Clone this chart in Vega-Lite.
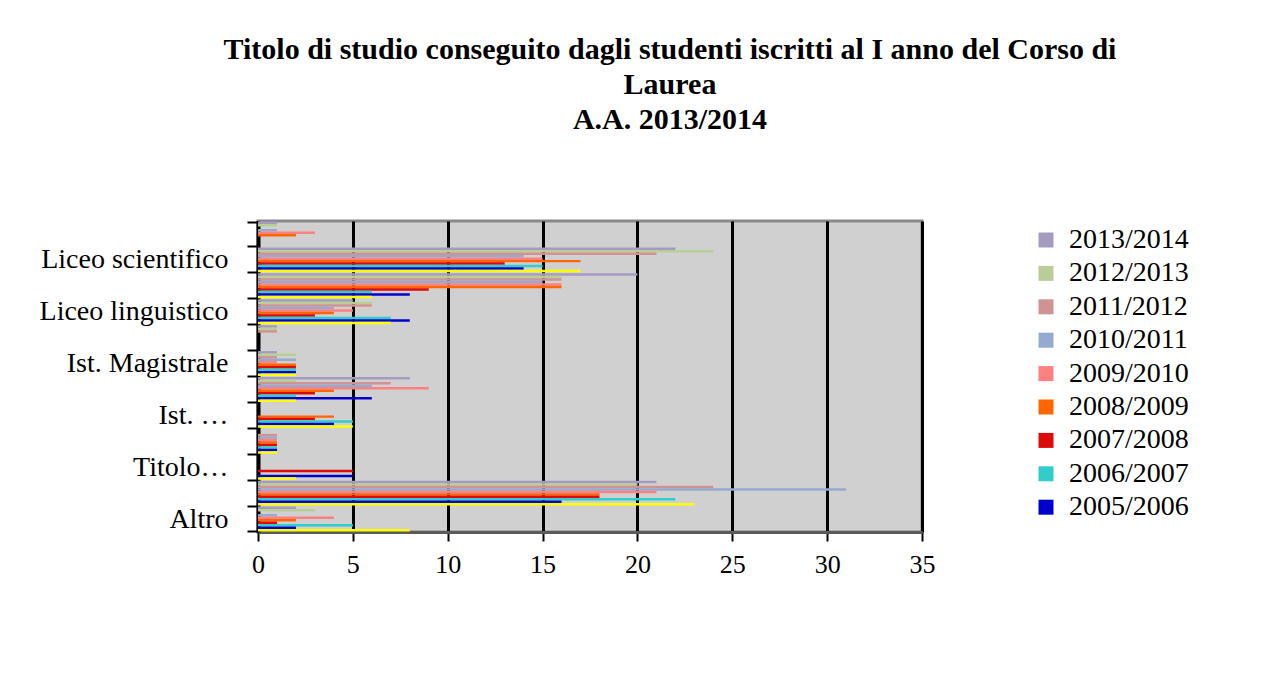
{
  "$schema": "https://vega.github.io/schema/vega-lite/v6.json",
  "width": 664,
  "height": 311,
  "autosize": {"type": "none"},
  "padding": {"left": 258, "top": 221, "right": 361, "bottom": 141},
  "background": "white",
  "title": {
    "text": ["Titolo di studio conseguito dagli studenti iscritti al I anno del Corso di", "Laurea", "A.A. 2013/2014"],
    "font": "Liberation Serif",
    "fontSize": 30,
    "fontWeight": "bold",
    "lineHeight": 35,
    "color": "black",
    "anchor": "middle",
    "frame": "group",
    "dx": 80,
    "offset": 72
  },
  "data": {
    "values": [
      {"titolo": "Liceo classico", "anno": "2013/2014", "n": 1},
      {"titolo": "Liceo classico", "anno": "2012/2013", "n": 1},
      {"titolo": "Liceo classico", "anno": "2011/2012", "n": 0},
      {"titolo": "Liceo classico", "anno": "2010/2011", "n": 1},
      {"titolo": "Liceo classico", "anno": "2009/2010", "n": 3},
      {"titolo": "Liceo classico", "anno": "2008/2009", "n": 2},
      {"titolo": "Liceo classico", "anno": "2007/2008", "n": 0},
      {"titolo": "Liceo classico", "anno": "2006/2007", "n": 0},
      {"titolo": "Liceo classico", "anno": "2005/2006", "n": 0},
      {"titolo": "Liceo classico", "anno": "2004/2005", "n": 0},

      {"titolo": "Liceo scientifico", "anno": "2013/2014", "n": 22},
      {"titolo": "Liceo scientifico", "anno": "2012/2013", "n": 24},
      {"titolo": "Liceo scientifico", "anno": "2011/2012", "n": 21},
      {"titolo": "Liceo scientifico", "anno": "2010/2011", "n": 14},
      {"titolo": "Liceo scientifico", "anno": "2009/2010", "n": 15},
      {"titolo": "Liceo scientifico", "anno": "2008/2009", "n": 17},
      {"titolo": "Liceo scientifico", "anno": "2007/2008", "n": 13},
      {"titolo": "Liceo scientifico", "anno": "2006/2007", "n": 15},
      {"titolo": "Liceo scientifico", "anno": "2005/2006", "n": 14},
      {"titolo": "Liceo scientifico", "anno": "2004/2005", "n": 17},

      {"titolo": "Liceo socio-psico-pedagogico", "anno": "2013/2014", "n": 20},
      {"titolo": "Liceo socio-psico-pedagogico", "anno": "2012/2013", "n": 16},
      {"titolo": "Liceo socio-psico-pedagogico", "anno": "2011/2012", "n": 16},
      {"titolo": "Liceo socio-psico-pedagogico", "anno": "2010/2011", "n": 15},
      {"titolo": "Liceo socio-psico-pedagogico", "anno": "2009/2010", "n": 16},
      {"titolo": "Liceo socio-psico-pedagogico", "anno": "2008/2009", "n": 16},
      {"titolo": "Liceo socio-psico-pedagogico", "anno": "2007/2008", "n": 9},
      {"titolo": "Liceo socio-psico-pedagogico", "anno": "2006/2007", "n": 6},
      {"titolo": "Liceo socio-psico-pedagogico", "anno": "2005/2006", "n": 8},
      {"titolo": "Liceo socio-psico-pedagogico", "anno": "2004/2005", "n": 6},

      {"titolo": "Liceo linguistico", "anno": "2013/2014", "n": 5},
      {"titolo": "Liceo linguistico", "anno": "2012/2013", "n": 6},
      {"titolo": "Liceo linguistico", "anno": "2011/2012", "n": 6},
      {"titolo": "Liceo linguistico", "anno": "2010/2011", "n": 4},
      {"titolo": "Liceo linguistico", "anno": "2009/2010", "n": 5},
      {"titolo": "Liceo linguistico", "anno": "2008/2009", "n": 4},
      {"titolo": "Liceo linguistico", "anno": "2007/2008", "n": 3},
      {"titolo": "Liceo linguistico", "anno": "2006/2007", "n": 7},
      {"titolo": "Liceo linguistico", "anno": "2005/2006", "n": 8},
      {"titolo": "Liceo linguistico", "anno": "2004/2005", "n": 7},

      {"titolo": "Liceo artistico", "anno": "2013/2014", "n": 1},
      {"titolo": "Liceo artistico", "anno": "2012/2013", "n": 1},
      {"titolo": "Liceo artistico", "anno": "2011/2012", "n": 1},
      {"titolo": "Liceo artistico", "anno": "2010/2011", "n": 0},
      {"titolo": "Liceo artistico", "anno": "2009/2010", "n": 0},
      {"titolo": "Liceo artistico", "anno": "2008/2009", "n": 0},
      {"titolo": "Liceo artistico", "anno": "2007/2008", "n": 0},
      {"titolo": "Liceo artistico", "anno": "2006/2007", "n": 0},
      {"titolo": "Liceo artistico", "anno": "2005/2006", "n": 0},
      {"titolo": "Liceo artistico", "anno": "2004/2005", "n": 0},

      {"titolo": "Ist. Magistrale", "anno": "2013/2014", "n": 1},
      {"titolo": "Ist. Magistrale", "anno": "2012/2013", "n": 2},
      {"titolo": "Ist. Magistrale", "anno": "2011/2012", "n": 1},
      {"titolo": "Ist. Magistrale", "anno": "2010/2011", "n": 2},
      {"titolo": "Ist. Magistrale", "anno": "2009/2010", "n": 1},
      {"titolo": "Ist. Magistrale", "anno": "2008/2009", "n": 2},
      {"titolo": "Ist. Magistrale", "anno": "2007/2008", "n": 2},
      {"titolo": "Ist. Magistrale", "anno": "2006/2007", "n": 2},
      {"titolo": "Ist. Magistrale", "anno": "2005/2006", "n": 2},
      {"titolo": "Ist. Magistrale", "anno": "2004/2005", "n": 2},

      {"titolo": "Ist. Tecnico", "anno": "2013/2014", "n": 8},
      {"titolo": "Ist. Tecnico", "anno": "2012/2013", "n": 2},
      {"titolo": "Ist. Tecnico", "anno": "2011/2012", "n": 7},
      {"titolo": "Ist. Tecnico", "anno": "2010/2011", "n": 6},
      {"titolo": "Ist. Tecnico", "anno": "2009/2010", "n": 9},
      {"titolo": "Ist. Tecnico", "anno": "2008/2009", "n": 4},
      {"titolo": "Ist. Tecnico", "anno": "2007/2008", "n": 3},
      {"titolo": "Ist. Tecnico", "anno": "2006/2007", "n": 2},
      {"titolo": "Ist. Tecnico", "anno": "2005/2006", "n": 6},
      {"titolo": "Ist. Tecnico", "anno": "2004/2005", "n": 2},

      {"titolo": "Ist. Professionale", "anno": "2013/2014", "n": 0},
      {"titolo": "Ist. Professionale", "anno": "2012/2013", "n": 0},
      {"titolo": "Ist. Professionale", "anno": "2011/2012", "n": 0},
      {"titolo": "Ist. Professionale", "anno": "2010/2011", "n": 0},
      {"titolo": "Ist. Professionale", "anno": "2009/2010", "n": 0},
      {"titolo": "Ist. Professionale", "anno": "2008/2009", "n": 4},
      {"titolo": "Ist. Professionale", "anno": "2007/2008", "n": 3},
      {"titolo": "Ist. Professionale", "anno": "2006/2007", "n": 5},
      {"titolo": "Ist. Professionale", "anno": "2005/2006", "n": 4},
      {"titolo": "Ist. Professionale", "anno": "2004/2005", "n": 5},

      {"titolo": "Ist. d'Arte", "anno": "2013/2014", "n": 0},
      {"titolo": "Ist. d'Arte", "anno": "2012/2013", "n": 0},
      {"titolo": "Ist. d'Arte", "anno": "2011/2012", "n": 1},
      {"titolo": "Ist. d'Arte", "anno": "2010/2011", "n": 1},
      {"titolo": "Ist. d'Arte", "anno": "2009/2010", "n": 1},
      {"titolo": "Ist. d'Arte", "anno": "2008/2009", "n": 1},
      {"titolo": "Ist. d'Arte", "anno": "2007/2008", "n": 1},
      {"titolo": "Ist. d'Arte", "anno": "2006/2007", "n": 1},
      {"titolo": "Ist. d'Arte", "anno": "2005/2006", "n": 1},
      {"titolo": "Ist. d'Arte", "anno": "2004/2005", "n": 1},

      {"titolo": "Titolo estero", "anno": "2013/2014", "n": 0},
      {"titolo": "Titolo estero", "anno": "2012/2013", "n": 0},
      {"titolo": "Titolo estero", "anno": "2011/2012", "n": 0},
      {"titolo": "Titolo estero", "anno": "2010/2011", "n": 0},
      {"titolo": "Titolo estero", "anno": "2009/2010", "n": 0},
      {"titolo": "Titolo estero", "anno": "2008/2009", "n": 0},
      {"titolo": "Titolo estero", "anno": "2007/2008", "n": 5},
      {"titolo": "Titolo estero", "anno": "2006/2007", "n": 0},
      {"titolo": "Titolo estero", "anno": "2005/2006", "n": 5},
      {"titolo": "Titolo estero", "anno": "2004/2005", "n": 2},

      {"titolo": "Ist. Tecnico Commerciale", "anno": "2013/2014", "n": 21},
      {"titolo": "Ist. Tecnico Commerciale", "anno": "2012/2013", "n": 20},
      {"titolo": "Ist. Tecnico Commerciale", "anno": "2011/2012", "n": 24},
      {"titolo": "Ist. Tecnico Commerciale", "anno": "2010/2011", "n": 31},
      {"titolo": "Ist. Tecnico Commerciale", "anno": "2009/2010", "n": 21},
      {"titolo": "Ist. Tecnico Commerciale", "anno": "2008/2009", "n": 18},
      {"titolo": "Ist. Tecnico Commerciale", "anno": "2007/2008", "n": 18},
      {"titolo": "Ist. Tecnico Commerciale", "anno": "2006/2007", "n": 22},
      {"titolo": "Ist. Tecnico Commerciale", "anno": "2005/2006", "n": 16},
      {"titolo": "Ist. Tecnico Commerciale", "anno": "2004/2005", "n": 23},

      {"titolo": "Altro", "anno": "2013/2014", "n": 2},
      {"titolo": "Altro", "anno": "2012/2013", "n": 3},
      {"titolo": "Altro", "anno": "2011/2012", "n": 0},
      {"titolo": "Altro", "anno": "2010/2011", "n": 1},
      {"titolo": "Altro", "anno": "2009/2010", "n": 4},
      {"titolo": "Altro", "anno": "2008/2009", "n": 2},
      {"titolo": "Altro", "anno": "2007/2008", "n": 1},
      {"titolo": "Altro", "anno": "2006/2007", "n": 5},
      {"titolo": "Altro", "anno": "2005/2006", "n": 2},
      {"titolo": "Altro", "anno": "2004/2005", "n": 8}
    ]
  },
  "mark": {"type": "bar", "cornerRadius": 0},
  "encoding": {
    "y": {
      "field": "titolo",
      "type": "nominal",
      "sort": null,
      "title": null,
      "scale": {"paddingInner": 0.04, "paddingOuter": 0.02},
      "axis": {
        "tickBand": "extent",
        "domainColor": "black",
        "domainWidth": 4,
        "tickColor": "black",
        "tickWidth": 2,
        "tickSize": 11,
        "labelFont": "Liberation Serif",
        "labelFontSize": 28,
        "labelColor": "black",
        "labelPadding": 19,
        "labelLimit": 300,
        "labelExpr": "datum.value == 'Ist. Professionale' ? 'Ist. …' : datum.value == 'Titolo estero' ? 'Titolo…' : (indexof(['Liceo scientifico','Liceo linguistico','Ist. Magistrale','Altro'], datum.value) >= 0 ? datum.value : '')"
      }
    },
    "yOffset": {
      "field": "anno",
      "type": "nominal",
      "sort": ["2013/2014","2012/2013","2011/2012","2010/2011","2009/2010","2008/2009","2007/2008","2006/2007","2005/2006","2004/2005"],
      "scale": {"paddingInner": 0, "paddingOuter": 0}
    },
    "x": {
      "field": "n",
      "type": "quantitative",
      "title": null,
      "scale": {"domain": [0, 35], "nice": false},
      "axis": {
        "values": [0, 5, 10, 15, 20, 25, 30, 35],
        "grid": true,
        "gridColor": "black",
        "gridWidth": 3,
        "gridOpacity": 1,
        "domainColor": "#5a5a5a",
        "domainWidth": 3,
        "tickColor": "black",
        "tickWidth": 2,
        "tickSize": 9,
        "labelFont": "Liberation Serif",
        "labelFontSize": 26,
        "labelColor": "black",
        "labelPadding": 10,
        "labelFlush": false
      }
    },
    "color": {
      "field": "anno",
      "type": "nominal",
      "title": null,
      "scale": {
        "domain": ["2013/2014","2012/2013","2011/2012","2010/2011","2009/2010","2008/2009","2007/2008","2006/2007","2005/2006","2004/2005"],
        "range": ["#A59BC1","#B9CD96","#D19392","#95AAD0","#FF8080","#FF6600","#DD0A0A","#33CCCC","#0000CC","#FFFF00"]
      },
      "legend": {
        "values": ["2013/2014","2012/2013","2011/2012","2010/2011","2009/2010","2008/2009","2007/2008","2006/2007","2005/2006"],
        "orient": "none",
        "legendX": 774,
        "legendY": 5,
        "padding": 0,
        "symbolType": "square",
        "symbolSize": 225,
        "symbolStrokeWidth": 0,
        "symbolOpacity": 1,
        "labelFont": "Liberation Serif",
        "labelFontSize": 28,
        "labelColor": "black",
        "labelOffset": 9,
        "rowPadding": 5.4
      }
    }
  },
  "config": {
    "font": "Liberation Serif",
    "view": {"fill": "#D0D0D0", "stroke": "#888888", "strokeWidth": 3}
  }
}
